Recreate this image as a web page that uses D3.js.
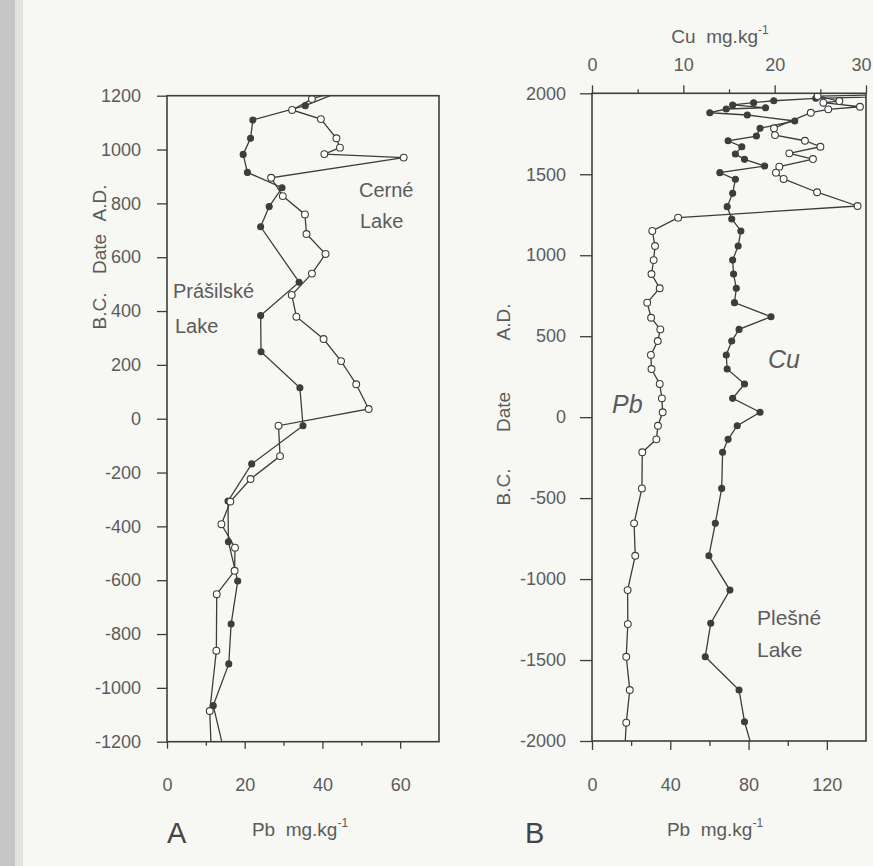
<!DOCTYPE html>
<html><head><meta charset="utf-8">
<script src="https://cdn.jsdelivr.net/npm/d3@7"></script>
<style>
html,body{margin:0;padding:0;background:#f7f7f4;}
svg{display:block;font-family:"Liberation Sans",Arial,sans-serif;}
</style></head>
<body>
<svg id="chart" width="873" height="866"></svg>
<script>
// ---------- DATA ----------
// Panel A : Černé Lake (open circles) – year, Pb mg/kg
const cerneYear = [1200,1188,1147,1113,1042,1007,983,970,895,827,759,686,612,539,460,379,296,214,128,36,-26,-139,-224,-308,-392,-479,-565,-652,-862,-1086,-1200];
const cernePb   = [40,37.3,32.2,39.6,43.6,44.5,40.5,60.9,26.8,29.8,35.5,35.9,40.8,37.3,32.1,33.3,40.3,44.8,48.7,51.9,28.7,29.1,21.5,16.3,14.0,17.5,17.4,12.8,12.7,11.0,11.3];
// Panel A : Prášilské Lake (filled circles)
const prasYear = [1200,1163,1110,1042,982,915,858,788,713,507,383,249,115,-26,-168,-306,-457,-603,-763,-911,-1066,-1200];
const prasPb   = [42,35.6,22.1,21.5,19.6,20.7,29.6,26.3,24.1,34.0,24.1,24.2,34.2,35.0,21.8,15.7,15.8,18.2,16.5,15.9,11.9,14.1];
// Panel B : Plešné Lake, Pb (open circles)
const plesPbYear = [1996,1983,1952,1942,1917,1901,1880,1784,1742,1707,1670,1629,1594,1547,1510,1471,1389,1304,1232,1150,1057,970,884,796,707,614,542,470,384,297,205,116,30,-53,-137,-217,-440,-656,-856,-1068,-1278,-1480,-1685,-1887,-2000];
const plesPb     = [175,115.3,126.4,118.2,136.9,120.7,111.8,93.0,93.5,108.8,116.7,100.8,112.9,95.7,94.0,97.9,115,135.7,44.0,30.8,32.2,31.5,30.4,34.6,28.2,30.2,34.9,33.6,30.1,30.4,34.6,35.7,36.1,33.7,32.9,25.7,25.5,21.5,22.1,18.2,18.3,17.5,19.3,17.5,17.0];
// Panel B : Plešné Lake, Cu (filled circles)
const plesCuYear = [1990,1969,1954,1942,1928,1911,1903,1880,1866,1829,1784,1736,1707,1670,1625,1592,1551,1510,1469,1382,1300,1224,1150,1057,970,884,796,707,620,542,470,384,297,205,116,30,-53,-137,-217,-440,-656,-856,-1068,-1273,-1480,-1685,-1881,-2000];
const plesCu     = [40,24.5,19.9,17.7,15.4,19.0,14.7,12.9,17.0,22.2,18.4,18.0,14.9,16.4,15.7,16.7,18.9,14.0,15.7,15.4,14.8,15.3,16.3,16.0,15.4,15.5,15.8,15.6,19.6,16.1,15.3,14.7,14.8,16.7,15.4,18.4,15.9,14.9,14.3,14.2,13.5,12.8,15.1,13.0,12.4,16.1,16.7,17.3];

const yTicksA = [1200,1000,800,600,400,200,0,-200,-400,-600,-800,-1000,-1200];
const yTicksB = [2000,1500,1000,500,0,-500,-1000,-1500,-2000];
const xTicksA = [0,20,40,60];
const xTicksB = [0,40,80,120];
const cuTicks = [0,10,20,30];

// ---------- SETUP ----------
const svg = d3.select("#chart");
const INK = "#3d3d3d", TXT = "#5b5b5b", FONT = 18;
const plain = d => String(d);

svg.append("rect").attr("x",0).attr("y",0).attr("width",15).attr("height",866).attr("fill","#c6c6c6");
svg.append("rect").attr("x",15).attr("y",0).attr("width",8).attr("height",866).attr("fill","#e2e2e0");

const zip = (a,b) => a.map((v,i)=>({year:v,val:b[i]}));

function styleAxis(g){
  g.select(".domain").remove();
  g.selectAll(".tick line").attr("stroke",INK).attr("stroke-width",1.3);
  g.selectAll(".tick text").attr("fill",TXT).attr("font-size",FONT)
   .attr("font-family","'Liberation Sans',Arial,sans-serif");
}

function panel(cfg){
  const {x, y, id} = cfg;
  const [x0,x1] = x.range(), [y1,y0] = y.range();
  const g = svg.append("g");
  g.append("clipPath").attr("id",id).append("rect")
    .attr("x",x0).attr("y",y0).attr("width",x1-x0).attr("height",y1-y0);
  cfg.series.forEach(s=>{
    const xs = s.x || x;
    const line = d3.line().x(d=>xs(d.val)).y(d=>y(d.year));
    const sg = g.append("g").attr("clip-path",`url(#${id})`);
    sg.append("path").datum(s.data).attr("d",line)
      .attr("fill","none").attr("stroke",INK).attr("stroke-width",1.3);
    const [dlo,dhi] = y.domain();
    sg.selectAll("circle").data(s.data.filter(d=>d.year>dlo && d.year<dhi && d.val<xs.domain()[1]))
      .join("circle").attr("cx",d=>xs(d.val)).attr("cy",d=>y(d.year))
      .attr("r",s.open?3.4:3.0)
      .attr("fill",s.open?"#ffffff":INK).attr("stroke",INK).attr("stroke-width",1.1);
  });
  g.append("rect").attr("x",x0).attr("y",y0).attr("width",x1-x0).attr("height",y1-y0)
    .attr("fill","none").attr("stroke",INK).attr("stroke-width",1.6);
  return g;
}

// ---------- PANEL A ----------
const xA = d3.scaleLinear().domain([0,70]).range([167,439]);
const yA = d3.scaleLinear().domain([-1200,1200]).range([741.7,95.7]);
panel({id:"clipA", x:xA, y:yA, series:[
  {data:zip(prasYear,prasPb), open:false},
  {data:zip(cerneYear,cernePb), open:true}
]});
svg.append("g").attr("transform",`translate(${xA(0)},0)`)
  .call(d3.axisLeft(yA).tickValues(yTicksA).tickSize(10).tickPadding(16).tickFormat(plain)).call(styleAxis);
svg.append("g").attr("transform",`translate(0,${yA(-1200)})`)
  .call(d3.axisBottom(xA).tickValues([10,30,50]).tickSize(4).tickFormat("")).call(styleAxis);
svg.append("g").attr("transform",`translate(0,${yA(-1200)})`)
  .call(d3.axisBottom(xA).tickValues(xTicksA).tickSize(7).tickPadding(30).tickFormat(plain)).call(styleAxis);

// ---------- PANEL B ----------
const xB  = d3.scaleLinear().domain([0,140]).range([592,866]);
const xCu = d3.scaleLinear().domain([0,30]).range([592,866]);
const yB  = d3.scaleLinear().domain([-2000,2000]).range([741,93.3]);
panel({id:"clipB", x:xB, y:yB, series:[
  {data:zip(plesCuYear,plesCu), open:false, x:xCu},
  {data:zip(plesPbYear,plesPb), open:true, x:xB}
]});
svg.append("g").attr("transform",`translate(${xB(0)},0)`)
  .call(d3.axisLeft(yB).tickValues(yTicksB).tickSize(12).tickPadding(14).tickFormat(plain)).call(styleAxis);
svg.append("g").attr("transform",`translate(0,${yB(-2000)})`)
  .call(d3.axisBottom(xB).tickValues([20,60,100]).tickSize(5).tickFormat("")).call(styleAxis);
svg.append("g").attr("transform",`translate(0,${yB(-2000)})`)
  .call(d3.axisBottom(xB).tickValues(xTicksB).tickSize(9).tickPadding(28).tickFormat(plain)).call(styleAxis);
svg.append("g").attr("transform",`translate(0,${yB(2000)})`)
  .call(d3.axisTop(xCu).tickValues([5,15,25]).tickSize(4).tickFormat("")).call(styleAxis);
const topAx = svg.append("g").attr("transform",`translate(0,${yB(2000)})`)
  .call(d3.axisTop(xCu).tickValues(cuTicks).tickSize(8).tickPadding(14).tickFormat(plain)).call(styleAxis);
topAx.selectAll(".tick text").filter(d=>d===30).attr("dx",-5);

// ---------- TEXT ----------
function txt(x,y,s,opts={}){
  const t = svg.append("text").attr("x",x).attr("y",y).attr("fill",opts.fill||TXT)
    .attr("font-size",opts.size||20).attr("text-anchor",opts.anchor||"start").text(s);
  if(opts.style) t.attr("font-style",opts.style);
  if(opts.weight) t.attr("font-weight",opts.weight);
  if(opts.rot!==undefined) t.attr("transform",`rotate(${opts.rot},${x},${y})`);
  return t;
}
function unitLabel(x,y,name){
  const t = svg.append("text").attr("x",x).attr("y",y).attr("fill",TXT)
    .attr("font-size",19).attr("text-anchor","middle");
  t.append("tspan").text(name+"\u00a0\u00a0mg.kg");
  t.append("tspan").attr("font-size",12).attr("dy",-9).text("-1");
}
// panel A labels
txt(359,197,"Cerné");
txt(360,228,"Lake");
txt(173,298,"Prášilské");
txt(175,333,"Lake");
unitLabel(300,836,"Pb");
txt(167,843,"A",{size:29,fill:"#454545"});
// y titles
txt(106,203,"A.D.",{anchor:"middle",rot:-90,size:19});
txt(106,254,"Date",{anchor:"middle",rot:-90,size:19});
txt(106,311,"B.C.",{anchor:"middle",rot:-90,size:19});
txt(510,322,"A.D.",{anchor:"middle",rot:-90,size:19});
txt(510,412,"Date",{anchor:"middle",rot:-90,size:19});
txt(510,487,"B.C.",{anchor:"middle",rot:-90,size:19});
// panel B labels
txt(612,413,"Pb",{size:25,style:"italic"});
txt(768,368,"Cu",{size:25,style:"italic"});
txt(757,625,"Plešné",{size:21});
txt(757,657,"Lake",{size:21});
unitLabel(715,836,"Pb");
unitLabel(720,43,"Cu");
txt(525,843,"B",{size:29,fill:"#454545"});
</script>
</body></html>
